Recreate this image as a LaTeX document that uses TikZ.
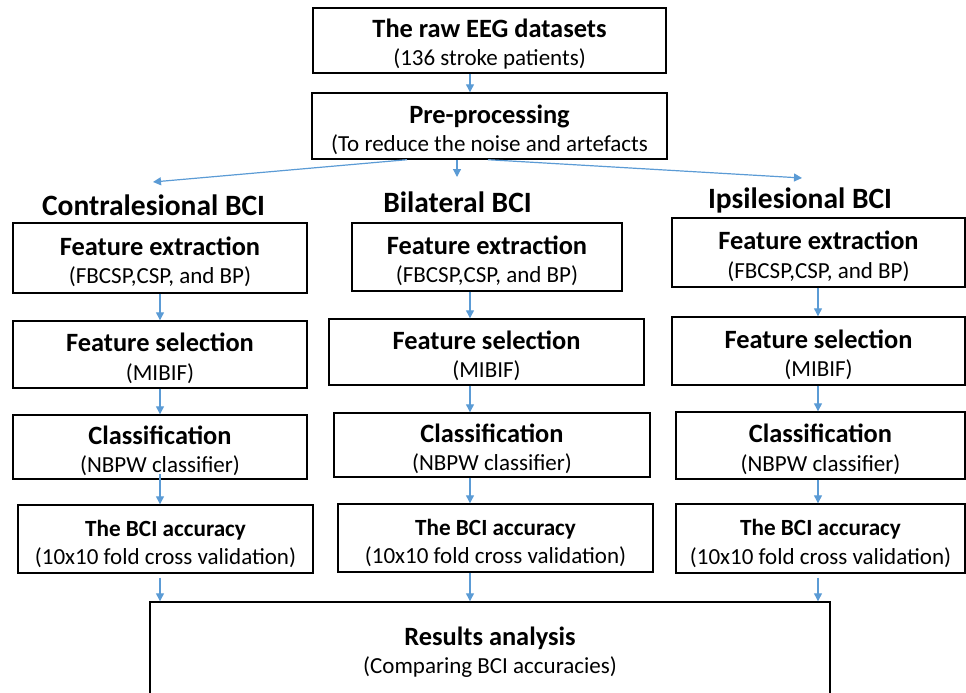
\documentclass[tikz,border=0pt]{standalone}
\usepackage{fontspec}
\setmainfont{Carlito}
\usetikzlibrary{arrows.meta}
\definecolor{arrblue}{HTML}{5B9BD5}
\tikzset{
  box/.style={draw=black, line width=1.4pt, inner sep=0pt, align=center,
    font=\fontsize{23}{28.5}\selectfont},
  arr/.style={draw=arrblue, line width=1.2pt, -{Triangle[width=8pt,length=8pt]}},
  head/.style={font=\fontsize{29.5}{32}\selectfont\bfseries, anchor=base, inner sep=0pt},
}
\newcommand\mkbox[7]{%
  \node[box, minimum width={(#4-#2)*1pt}, minimum height={(#5-#3)*1pt}]
    (#1) at ({(#2+#4)/2},{(#3+#5)/2}) {\rule{0pt}{26pt}{\fontsize{26.4}{28.5}\selectfont\bfseries #6}\\#7};}
\begin{document}
\begin{tikzpicture}[x=1pt,y=-1pt]
\useasboundingbox (0,0) rectangle (966,693);
\clip (0,0) rectangle (966,693);
% top
\mkbox{raw}{313}{8}{666}{73}{The raw EEG datasets}{(136 stroke patients)}
\mkbox{pre}{312}{93}{667}{159}{Pre-processing}{(To reduce the noise and artefacts}
% headings
\node[head] (hl) at (153.5,215) {Contralesional BCI};
\node[head] (hm) at (457.5,212) {Bilateral BCI};
\node[head] (hr) at (800,208) {Ipsilesional BCI};
% left column
\mkbox{lfe}{13}{223}{307}{293}{Feature extraction}{(FBCSP,CSP, and BP)}
\mkbox{lfs}{13}{321}{307}{388}{Feature selection}{(MIBIF)}
\mkbox{lcl}{13}{415}{307}{479}{Classification}{(NBPW classifier)}
\mkbox{lac}{18}{505}{313}{573}{{\fontsize{23.2}{28.5}\selectfont The BCI accuracy}}{(10x10 fold cross validation)}
% middle column
\mkbox{mfe}{352}{223}{622}{291}{Feature extraction}{(FBCSP,CSP, and BP)}
\mkbox{mfs}{329}{319}{644}{385}{Feature selection}{(MIBIF)}
\mkbox{mcl}{334}{413}{650}{477}{Classification}{(NBPW classifier)}
\mkbox{mac}{338}{504}{653}{572}{{\fontsize{23.2}{28.5}\selectfont The BCI accuracy}}{(10x10 fold cross validation)}
% right column
\mkbox{rfe}{672}{218}{965}{287}{Feature extraction}{(FBCSP,CSP, and BP)}
\mkbox{rfs}{672}{317}{965}{385}{Feature selection}{(MIBIF)}
\mkbox{rcl}{676}{412}{965}{479}{Classification}{(NBPW classifier)}
\mkbox{rac}{676}{504}{965}{573}{{\fontsize{23.2}{28.5}\selectfont The BCI accuracy}}{(10x10 fold cross validation)}
% results
\mkbox{res}{150}{602}{830}{695}{Results analysis}{(Comparing BCI accuracies)}
% coordinates
\coordinate (cx) at (470,0);
\coordinate (p1) at (407,0);
\coordinate (p2) at (457,0);
\coordinate (p3) at (488,0);
\coordinate (el) at (153,182);
\coordinate (em) at (457,177);
\coordinate (er) at (802,178);
\coordinate (lx) at (160,0);
\coordinate (mx) at (470,0);
\coordinate (rx) at (818,0);
% arrows
\draw[arr] (raw.south -| cx) -- (pre.north -| cx);
\draw[arr] (pre.south -| p1) -- (el);
\draw[arr] (pre.south -| p2) -- (em);
\draw[arr] (pre.south -| p3) -- (er);
\draw[arr] (lfe.south -| lx) -- (lfs.north -| lx);
\draw[arr] (lfs.south -| lx) -- (lcl.north -| lx);
\draw[arr] ([yshift=6pt]lcl.south -| lx) -- (lac.north -| lx);
\draw[arr] ([yshift=-4pt]lac.south -| lx) -- (res.north -| lx);
\draw[arr] (mfe.south -| mx) -- (mfs.north -| mx);
\draw[arr] (mfs.south -| mx) -- (mcl.north -| mx);
\draw[arr] (mcl.south -| mx) -- (mac.north -| mx);
\draw[arr] (mac.south -| mx) -- (res.north -| mx);
\draw[arr] (rfe.south -| rx) -- (rfs.north -| rx);
\draw[arr] (rfs.south -| rx) -- (rcl.north -| rx);
\draw[arr] (rcl.south -| rx) -- (rac.north -| rx);
\draw[arr] ([yshift=-4pt]rac.south -| rx) -- (res.north -| rx);
\end{tikzpicture}
\end{document}
